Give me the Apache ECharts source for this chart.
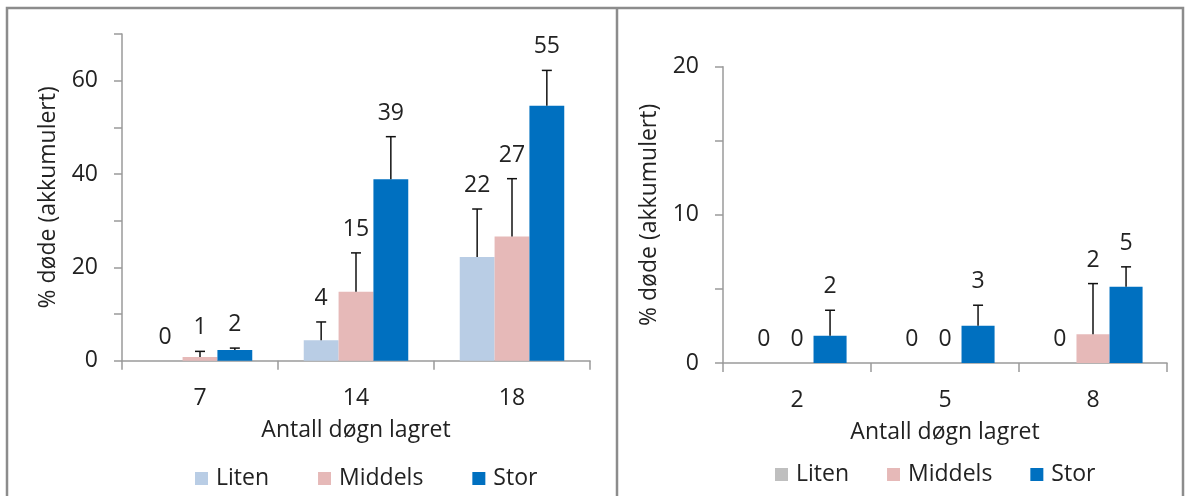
<!DOCTYPE html>
<html>
<head>
<meta charset="utf-8">
<script src="https://cdn.jsdelivr.net/npm/echarts@6/dist/echarts.min.js"></script>
<style>
  html, body { margin: 0; padding: 0; background: #fff; }
  #chart { width: 1191px; height: 496px; }
</style>
</head>
<body>
<div id="chart"></div>
<script>
// Size groups
const sizeNames = ['Liten', 'Middels', 'Stor'];

// Left panel: days stored 7 / 14 / 18
const daysLeft = ['7', '14', '18'];
const litenLeft = [0, 4.4, 22.2];
const middelsLeft = [0.8, 14.8, 26.6];
const storLeft = [2.3, 38.9, 54.6];
const litenLeftErr = [0, 3.9, 10.3];
const middelsLeftErr = [1.2, 8.3, 12.4];
const storLeftErr = [0.4, 9.1, 7.6];

// Right panel: days stored 2 / 5 / 8
const daysRight = ['2', '5', '8'];
const litenRight = [0, 0, 0];
const middelsRight = [0, 0, 1.94];
const storRight = [1.84, 2.52, 5.14];
const litenRightErr = [0, 0, 0];
const middelsRightErr = [0, 0, 3.42];
const storRightErr = [1.72, 1.38, 1.35];

// Y tick values
const leftTicks = { min: 0, max: 70, step: 10, labelEvery: 20 };
const rightTicks = { min: 0, max: 20, step: 5, labelEvery: 10 };

const FONT = '"Open Sans", sans-serif';
const FS = 23;
const TXT = '#222';
const AXIS = '#9a9a9a';
const CAT_GAP = 0.33;

const colorsLeft = ['#B9CDE5', '#E6B9B8', '#0070C0'];
const colorsRight = ['#BFBFBF', '#E6B9B8', '#0070C0'];

function barSeries(name, axis, values, color) {
  return {
    type: 'bar', name: name, xAxisIndex: axis, yAxisIndex: axis,
    data: values, barGap: 0, barCategoryGap: (CAT_GAP * 100) + '%',
    itemStyle: { color: color }, silent: true
  };
}

// Upper error whisker plus rounded value label above it
function whiskerSeries(axis, slot, values, errs) {
  return {
    type: 'custom', xAxisIndex: axis, yAxisIndex: axis, z: 5, silent: true,
    data: values.map((v, i) => [i, v, errs[i]]),
    encode: { x: 0, y: 1 },
    renderItem: function (params, api) {
      const idx = api.value(0), v = api.value(1), e = api.value(2);
      const catW = api.size([1, 0])[0];
      const barW = catW * (1 - CAT_GAP) / 3;
      const cx = api.coord([idx, 0])[0] + (slot - 1) * barW;
      const yv = api.coord([idx, v])[1];
      const yt = api.coord([idx, v + e])[1];
      const kids = [];
      if (e > 0) {
        kids.push({ type: 'line', shape: { x1: cx, y1: yv, x2: cx, y2: yt },
          style: { stroke: '#111', lineWidth: 1.5 } });
        kids.push({ type: 'line', shape: { x1: cx - 5, y1: yt, x2: cx + 5, y2: yt },
          style: { stroke: '#111', lineWidth: 1.5 } });
      }
      kids.push({ type: 'text', style: {
        text: String(Math.round(v)), x: cx, y: yt - 12,
        align: 'center', verticalAlign: 'bottom',
        fontFamily: FONT, fontSize: FS, fill: TXT } });
      return { type: 'group', children: kids };
    }
  };
}

function yAxisFor(grid, t) {
  return {
    type: 'value', gridIndex: grid, min: t.min, max: t.max, interval: t.step,
    name: '% døde (akkumulert)', nameLocation: 'middle', nameGap: 62,
    nameTextStyle: { fontFamily: FONT, fontSize: FS, color: TXT },
    axisLine: { show: true, lineStyle: { color: AXIS, width: 1.5 } },
    axisTick: { show: true, length: 8, lineStyle: { color: AXIS, width: 1.5 } },
    splitLine: { show: false },
    axisLabel: { margin: 24, fontFamily: FONT, fontSize: FS, color: TXT,
      formatter: v => (v % t.labelEvery === 0 ? String(v) : '') }
  };
}

function xAxisFor(grid, cats) {
  return {
    type: 'category', gridIndex: grid, data: cats,
    name: 'Antall døgn lagret', nameLocation: 'middle', nameGap: 58,
    nameTextStyle: { fontFamily: FONT, fontSize: FS, color: TXT },
    axisLine: { show: true, lineStyle: { color: AXIS, width: 1.5 } },
    axisTick: { show: true, length: 9, lineStyle: { color: AXIS, width: 1.5 } },
    axisLabel: { margin: 26, fontFamily: FONT, fontSize: FS, color: TXT }
  };
}

function legendFor(left, top, gap, colors) {
  return {
    left: left, top: top, itemGap: gap, itemWidth: 13, itemHeight: 13,
    icon: 'rect', selectedMode: false,
    textStyle: { fontFamily: FONT, fontSize: FS, color: TXT, padding: [0, 0, 0, 3] },
    data: sizeNames.map((n, i) => ({ name: n, itemStyle: { color: colors[i] } }))
  };
}

const chart = echarts.init(document.getElementById('chart'), null, { renderer: 'canvas' });
chart.setOption({
  animation: false,
  backgroundColor: '#fff',
  grid: [
    { left: 122, top: 34, width: 468, height: 326.7 },
    { left: 723, top: 66.7, width: 444, height: 296.3 }
  ],
  xAxis: [xAxisFor(0, daysLeft), xAxisFor(1, daysRight)],
  yAxis: [yAxisFor(0, leftTicks), yAxisFor(1, rightTicks)],
  legend: [
    legendFor(190, 462, 49, colorsLeft),
    legendFor(770, 458, 38, colorsRight)
  ],
  graphic: [
    { type: 'polyline', silent: true, shape: { points: [[7, 520], [7, 8], [1183, 8], [1183, 520]] },
      style: { stroke: '#8c8c8c', lineWidth: 2.5, fill: null } },
    { type: 'line', silent: true, shape: { x1: 617, y1: 8, x2: 617, y2: 520 },
      style: { stroke: '#8c8c8c', lineWidth: 2.5 } }
  ],
  series: [
    barSeries('Liten', 0, litenLeft, colorsLeft[0]),
    barSeries('Middels', 0, middelsLeft, colorsLeft[1]),
    barSeries('Stor', 0, storLeft, colorsLeft[2]),
    barSeries('Liten', 1, litenRight, colorsRight[0]),
    barSeries('Middels', 1, middelsRight, colorsRight[1]),
    barSeries('Stor', 1, storRight, colorsRight[2]),
    whiskerSeries(0, 0, litenLeft, litenLeftErr),
    whiskerSeries(0, 1, middelsLeft, middelsLeftErr),
    whiskerSeries(0, 2, storLeft, storLeftErr),
    whiskerSeries(1, 0, litenRight, litenRightErr),
    whiskerSeries(1, 1, middelsRight, middelsRightErr),
    whiskerSeries(1, 2, storRight, storRightErr)
  ]
});
</script>
</body>
</html>
